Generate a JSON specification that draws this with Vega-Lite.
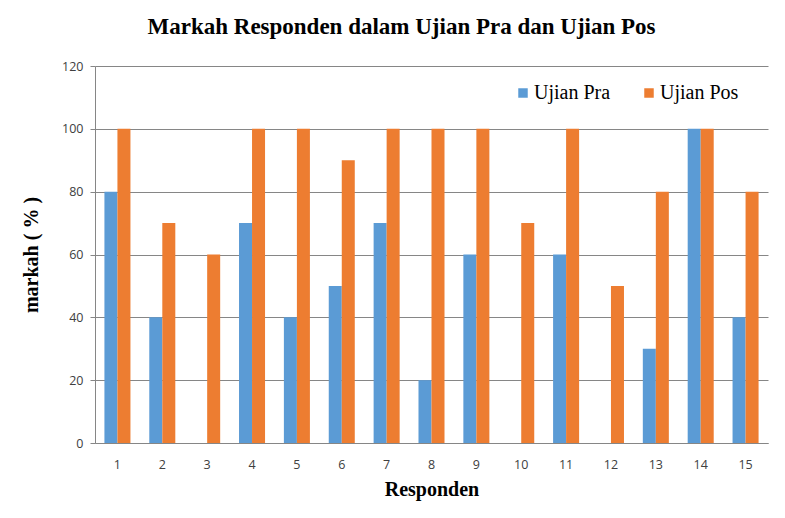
{
  "$schema": "https://vega.github.io/schema/vega-lite/v6.json",
  "autosize": "none",
  "width": 673,
  "height": 377,
  "padding": {"left": 95, "top": 66, "right": 17, "bottom": 75},
  "background": "white",
  "title": {
    "text": "Markah Responden dalam Ujian Pra dan Ujian Pos",
    "font": "Liberation Serif",
    "fontSize": 23,
    "fontWeight": "bold",
    "color": "#000000",
    "anchor": "middle",
    "dx": -30,
    "offset": 21
  },
  "data": {
    "values": [
      {"responden": "1", "ujian": "Ujian Pra", "markah": 80},
      {"responden": "1", "ujian": "Ujian Pos", "markah": 100},
      {"responden": "2", "ujian": "Ujian Pra", "markah": 40},
      {"responden": "2", "ujian": "Ujian Pos", "markah": 70},
      {"responden": "3", "ujian": "Ujian Pra", "markah": 0},
      {"responden": "3", "ujian": "Ujian Pos", "markah": 60},
      {"responden": "4", "ujian": "Ujian Pra", "markah": 70},
      {"responden": "4", "ujian": "Ujian Pos", "markah": 100},
      {"responden": "5", "ujian": "Ujian Pra", "markah": 40},
      {"responden": "5", "ujian": "Ujian Pos", "markah": 100},
      {"responden": "6", "ujian": "Ujian Pra", "markah": 50},
      {"responden": "6", "ujian": "Ujian Pos", "markah": 90},
      {"responden": "7", "ujian": "Ujian Pra", "markah": 70},
      {"responden": "7", "ujian": "Ujian Pos", "markah": 100},
      {"responden": "8", "ujian": "Ujian Pra", "markah": 20},
      {"responden": "8", "ujian": "Ujian Pos", "markah": 100},
      {"responden": "9", "ujian": "Ujian Pra", "markah": 60},
      {"responden": "9", "ujian": "Ujian Pos", "markah": 100},
      {"responden": "10", "ujian": "Ujian Pra", "markah": 0},
      {"responden": "10", "ujian": "Ujian Pos", "markah": 70},
      {"responden": "11", "ujian": "Ujian Pra", "markah": 60},
      {"responden": "11", "ujian": "Ujian Pos", "markah": 100},
      {"responden": "12", "ujian": "Ujian Pra", "markah": 0},
      {"responden": "12", "ujian": "Ujian Pos", "markah": 50},
      {"responden": "13", "ujian": "Ujian Pra", "markah": 30},
      {"responden": "13", "ujian": "Ujian Pos", "markah": 80},
      {"responden": "14", "ujian": "Ujian Pra", "markah": 100},
      {"responden": "14", "ujian": "Ujian Pos", "markah": 100},
      {"responden": "15", "ujian": "Ujian Pra", "markah": 40},
      {"responden": "15", "ujian": "Ujian Pos", "markah": 80}
    ]
  },
  "mark": {"type": "bar"},
  "encoding": {
    "x": {
      "field": "responden",
      "type": "ordinal",
      "sort": null,
      "scale": {"paddingInner": 0.42, "paddingOuter": 0.21},
      "axis": {
        "title": "Responden",
        "titleFont": "Liberation Serif",
        "titleFontSize": 20,
        "titleFontWeight": "bold",
        "titleColor": "#000000",
        "titlePadding": 9,
        "labelAngle": 0,
        "labelFont": "Open Sans",
        "labelFontSize": 12.5,
        "labelColor": "#404040",
        "labelPadding": 15,
        "ticks": false,
        "domainColor": "#868686",
        "grid": false
      }
    },
    "xOffset": {
      "field": "ujian",
      "type": "nominal",
      "sort": ["Ujian Pra", "Ujian Pos"],
      "scale": {"paddingInner": 0, "paddingOuter": 0}
    },
    "y": {
      "field": "markah",
      "type": "quantitative",
      "scale": {"domain": [0, 120]},
      "axis": {
        "title": "markah ( % )",
        "titleFont": "Liberation Serif",
        "titleFontSize": 20,
        "titleFontWeight": "bold",
        "titleColor": "#000000",
        "titlePadding": 20,
        "values": [0, 20, 40, 60, 80, 100, 120],
        "labelFont": "Open Sans",
        "labelFontSize": 12.5,
        "labelColor": "#404040",
        "labelPadding": 7,
        "tickSize": 5,
        "tickColor": "#868686",
        "domainColor": "#868686",
        "gridColor": "#868686",
        "gridWidth": 1
      }
    },
    "color": {
      "field": "ujian",
      "type": "nominal",
      "sort": ["Ujian Pra", "Ujian Pos"],
      "scale": {"domain": ["Ujian Pra", "Ujian Pos"], "range": ["#5B9BD5", "#ED7D31"]},
      "legend": {
        "title": null,
        "orient": "none",
        "direction": "horizontal",
        "legendX": 418,
        "legendY": 17,
        "symbolType": "square",
        "symbolSize": 90,
        "symbolStrokeWidth": 0,
        "labelFont": "Liberation Serif",
        "labelFontSize": 20,
        "labelColor": "#000000",
        "columnPadding": 28,
        "labelOffset": 1
      }
    }
  },
  "config": {
    "view": {"stroke": null},
    "legend": {"labelFont": "Liberation Serif"}
  }
}
